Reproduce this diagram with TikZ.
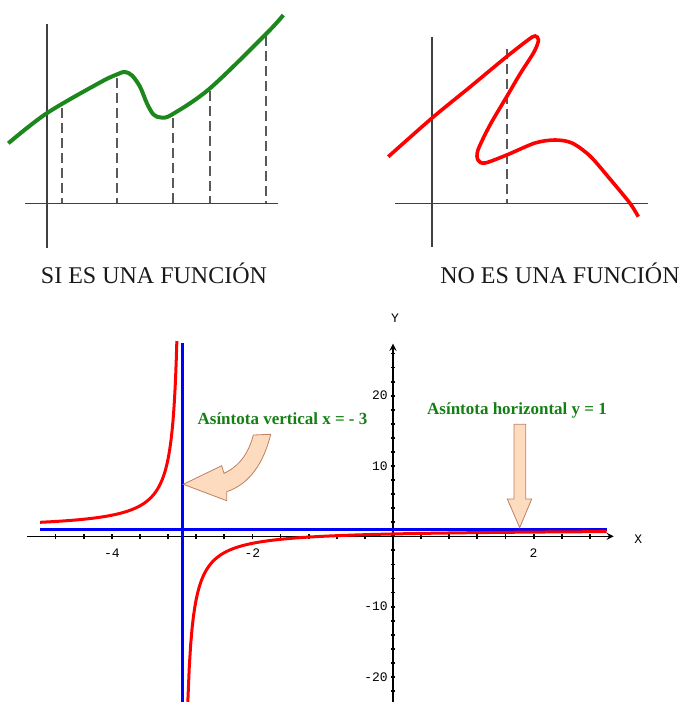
\documentclass[tikz,border=0pt]{standalone}
\usepackage{fontspec}
\setmainfont{Liberation Serif}
\newfontfamily\plotfont{Liberation Mono}
\usetikzlibrary{arrows, positioning}

\definecolor{curvegreen}{RGB}{28,135,28}
\definecolor{notegreen}{RGB}{20,128,20}
\definecolor{arrowfill}{RGB}{252,219,190}
\definecolor{arrowline}{RGB}{190,128,98}

\begin{document}
\begin{tikzpicture}[
    x=0.5pt, y=-0.5pt,
    axis/.style={draw=black!75, line width=0.8pt},
    guide/.style={draw=black!65, line width=0.9pt, dash pattern=on 5pt off 2.5pt},
    caption/.style={font=\fontsize{12}{14}\selectfont, text=black!90},
    note/.style={font=\bfseries\fontsize{8.5}{10}\selectfont, text=notegreen},
    ticklabel/.style={font=\plotfont\fontsize{6.5}{7}\selectfont, inner sep=1pt},
    blockarrow/.style={fill=arrowfill, draw=arrowline, line width=0.4pt}
]
\useasboundingbox (0,0) rectangle (685,702);

% Function graph
\draw[axis] (46.7,24) -- (46.7,248);
\draw[axis] (25,203.3) -- (278,203.3);
\foreach \x/\y in {61.7/108, 117.3/78, 173.3/118, 210/91, 265.7/36}
    \draw[guide] (\x,\y) -- (\x,203.3);
\draw[curvegreen, line width=2pt] plot[smooth, tension=0.55] coordinates {(8.3,143.3) (46.7,113.3) (100,82.5) (118,74) (125,72) (132,75.5) (140,86.7) (147,103.5) (153.5,114.5) (161,117.5) (172,114.5) (210,88.3) (266.7,33.3) (283.3,15)};
\node[caption] (yes_label) at (154,273) {SI ES UNA FUNCIÓN};

% Non-function graph
\draw[axis] (431.7,36.7) -- (431.7,246.7);
\draw[axis] (395,203.3) -- (648.3,203.3);
\draw[guide] (506.7,49.3) -- (506.7,203.3);
\draw[red, line width=1.8pt] plot[smooth, tension=0.5] coordinates {(388.3,156.7) (431.7,118.3) (470,87) (505,58) (528,40) (535,36) (538.5,40) (534,52) (520,74) (506.7,96.7) (490,125) (478,150) (478,160) (485,163) (506.7,155) (535,143) (555,140) (572,143) (590,156) (610,179) (630,203.3) (638.3,216.7)};
\node[caption] (no_label) at (560,273) {NO ES UNA FUNCIÓN};

% Asymptotes plot
\begin{scope}[shift={(393,536.3)}, x=35.15pt, y=3.515pt]
    \draw[black, line width=0.6pt, ->, >=stealth] (-5.2,0) -- (3.14,0);
    \draw[black, line width=0.6pt, ->, >=stealth] (0,-23.6) -- (0,27.4);
    \foreach \i in {-12,...,7}
        \draw[black, line width=0.9pt] (\i*0.4,0) ++(0,-1.1pt) -- ++(0,2.2pt);
    \foreach \i in {-11,...,13}
        \draw[black, line width=0.9pt] (0,\i*2) ++(-1.1pt,0) -- ++(2.2pt,0);
    \foreach \v in {-4,-2,2}
        \node[ticklabel] (xl\v) at (\v,-2.4) {\v};
    \foreach \v in {20,10,-10,-20}
        \node[ticklabel, anchor=east] (yl\v) at (-0.04,\v) {\v};
    \node[ticklabel] (ylabel) at (0.03,31.05) {Y};
    \node[ticklabel] (xlabel) at (3.49,-0.4) {X};
    % asymptotes
    \draw[blue, line width=1.5pt] (-5.02,1) -- (3.04,1);
    \draw[blue, line width=1.5pt] (-3,27.5) -- (-3,-23.6);
    % branches of the curve
    \draw[red, line width=1.5pt] plot[domain=-5.02:-3.074, samples=250] (\x,{1-2/(\x+3)});
    \draw[red, line width=1.5pt] plot[domain=-2.9187:3.04, samples=300] (\x,{1-2/(\x+3)});
\end{scope}

% Notes and arrows
\node[note] (vert_note) at (282.5,419) {Asíntota vertical x = - 3};
\node[note] (horiz_note) at (517,410) {Asíntota horizontal y = 1};
\draw[blockarrow] (253.3,435) -- (270.7,434.3) .. controls (264,462) and (250,484) .. (226.7,491.7) -- (226.7,500.7) -- (183.3,484.3) -- (221.7,465.7) -- (224,473.3) .. controls (240,466) and (249,452) .. (253.3,435) -- cycle;
\draw[blockarrow] (514,424.3) -- (525.7,424.3) -- (525.7,499) -- (531.7,499) -- (519.7,527.7) -- (507.3,499) -- (514,499) -- cycle;

\end{tikzpicture}
\end{document}
